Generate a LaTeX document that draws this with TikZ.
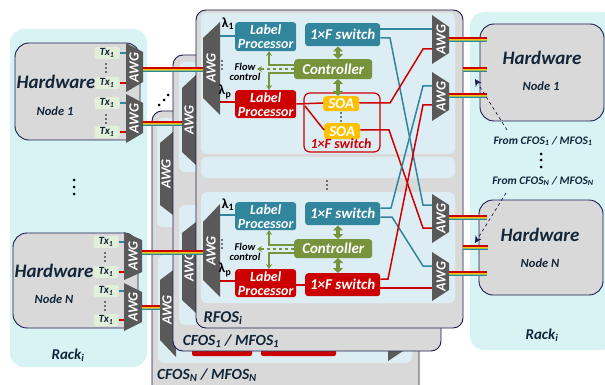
\documentclass[tikz,border=0pt]{standalone}
\usepackage{fontspec}
\setmainfont{Carlito}
\usetikzlibrary{arrows.meta}
\definecolor{rackc}{HTML}{D7F3F4}
\definecolor{panelc}{HTML}{DCEDF4}
\definecolor{grayc}{HTML}{D9D9D9}
\definecolor{navy}{HTML}{1C1C50}
\definecolor{awgc}{HTML}{595959}
\definecolor{bluec}{HTML}{31859C}
\definecolor{redc}{HTML}{CC0000}
\definecolor{greenc}{HTML}{77933C}
\definecolor{orangec}{HTML}{FFC000}
\definecolor{txc}{HTML}{E2EFDA}
\definecolor{inkc}{HTML}{12263A}
\definecolor{limec}{HTML}{9BBB59}
\tikzset{
  rack/.style={fill=rackc,rounded corners=14pt},
  hw/.style={fill=grayc,draw=navy,line width=0.9pt,rounded corners=14pt},
  fosbox/.style={fill=grayc,draw=navy,line width=0.9pt,rounded corners=10pt},
  panel/.style={fill=panelc,rounded corners=6pt},
  lbl/.style={text=white,font=\bfseries\itshape\fontsize{14}{14}\selectfont,align=center,inner sep=0pt,rounded corners=3pt,anchor=north west},
  boxb/.style={lbl,fill=bluec},
  boxr/.style={lbl,fill=redc},
  boxg/.style={lbl,fill=greenc,font=\bfseries\itshape\fontsize{15}{15}\selectfont},
  boxo/.style={lbl,fill=orangec,font=\bfseries\itshape\fontsize{15}{15}\selectfont},
  swf/.style={font=\bfseries\itshape\fontsize{15}{15}\selectfont},
  txbox/.style={fill=txc,rounded corners=1.5pt,minimum width=25pt,minimum height=12pt,inner sep=0pt,text=inkc,font=\bfseries\itshape\fontsize{11}{11}\selectfont},
  awgt/.style={text=white,rotate=90,inner sep=0pt,font=\bfseries\itshape\fontsize{14}{14}\selectfont},
  hwt/.style={text=inkc,inner sep=0pt,font=\bfseries\itshape\fontsize{19}{19}\selectfont},
  nodet/.style={text=inkc,inner sep=0pt,font=\bfseries\itshape\fontsize{12.5}{12.5}\selectfont},
  small/.style={text=inkc,inner sep=0pt,font=\bfseries\itshape\fontsize{11.5}{11.5}\selectfont},
  capt/.style={text=inkc,inner sep=0pt,font=\bfseries\itshape\fontsize{15.5}{15.5}\selectfont},
  flowt/.style={text=black,inner sep=0pt,align=center,font=\bfseries\itshape\fontsize{10.5}{9.5}\selectfont},
  lam/.style={text=black,inner sep=0pt,font=\bfseries\fontsize{14}{14}\selectfont},
  bl/.style={draw=bluec,line width=1.5pt},
  rl/.style={draw=redc,line width=1.5pt},
  gthin/.style={draw=greenc,line width=1.5pt,-{Stealth[length=5pt,width=6pt]}},
  gfat/.style={draw=greenc,line width=3.4pt,{Triangle[length=5pt,width=10pt]}-{Triangle[length=5pt,width=10pt]}},
}
\newcommand{\awgshape}[8]{% name x1 x2 ltop lbot rtop rbot textx
  \fill[awgc] (#2,#4) -- (#3,#6) -- (#3,#7) -- (#2,#5) -- cycle;
  \node[awgt] (#1) at (#8,{(#4+#5)/2}) {AWG};
}
\newcommand{\rainbow}[2]{%
  \foreach \c/\d in {bluec/3.6,limec/2.4,orangec/1.2,redc/0}
    \draw[\c,line width=1.5pt] ([yshift=-\d pt]#1) -- ([yshift=-\d pt]#2);
}
\newcommand{\vdotsb}[2]{\foreach \k in {-4,0,4}{\fill[black] (#1,#2+\k) circle (0.9pt);}}
\begin{document}
\begin{tikzpicture}[x=1pt,y=-1pt]
\useasboundingbox (0,0) rectangle (605,385);
% racks
\fill[rack] (10,29) rectangle (147,367);
\fill[rack] (470,12) rectangle (615,350);
% stacked boxes
\path[fosbox] (152,111) rectangle (419,400);
\fill[panel] (157,118) rectangle (178,227);
\fill[panel] (158,255) rectangle (412,363);
\fill[redc,rounded corners=2pt] (192,340) rectangle (252,356);
\fill[redc,rounded corners=2pt] (261,340) rectangle (336,356);
\awgshape{awgD}{160}{173}{143}{205}{132}{215}{166}
\awgshape{awgE}{160}{176}{280}{340}{268}{357}{167}
\fill[awgc] (388,351) -- (403,351) -- (388,361) -- cycle;
\path[fosbox] (173,55) rectangle (441,351);
\fill[panel] (179,62) rectangle (200,172);
\fill[panel] (179,205) rectangle (200,325);
\awgshape{awgB}{182}{196}{88}{152}{75}{165}{189}
\awgshape{awgC}{182}{196}{233}{300}{222}{313}{189}
% main box
\path[fosbox] (196,10) rectangle (463,328);
\fill[panel] (201,13) rectangle (455,154);
\fill[panel] (201,157) rectangle (455,178);
\fill[panel] (201,192) rectangle (455,303);
% left hardware
\path[hw] (15,43) rectangle (140,140);
\path[hw] (13,233) rectangle (138,328);
\node[hwt] (hwA) at (56,82) {Hardware};
\node[nodet] (nA) at (55,111) {Node 1};
\node[hwt] (hwB) at (54,271) {Hardware};
\node[nodet] (nB) at (54,299) {Node N};
% Tx
\foreach \n/\x/\y/\c in {a/107/53/bluec,b/107/83/redc,c/107/103/bluec,d/107/132/redc,e/106/242/bluec,f/106/272/redc,g/106/291/bluec,h/106/320/redc}{
  \node[txbox] (tx\n) at (\x,\y) {Tx\textsubscript{1}};
  \draw[\c,line width=1.4pt] (tx\n.east) -- ++(7,0);
}
\vdotsb{106}{68}\vdotsb{106}{119}\vdotsb{105}{257}\vdotsb{105}{306}
\awgshape{awgL1}{126}{143}{43}{92}{52}{82}{134}
\awgshape{awgL2}{126}{143}{94}{143}{103}{133}{134}
\awgshape{awgL3}{124}{142}{232}{280}{240}{272}{133}
\awgshape{awgL4}{124}{142}{283}{331}{292}{322}{133}
% main AWGs
\awgshape{awgM1}{203}{220}{38}{98}{22}{115}{211}
\awgshape{awgM2}{203}{220}{222}{280}{204}{297}{211}
% left rainbows
\coordinate (ra1) at (143,68); \coordinate (ra2) at (203,68);
\coordinate (rb1) at (143,122); \coordinate (rb2) at (182,122);
\coordinate (rc1) at (142,251); \coordinate (rc2) at (203,251);
\coordinate (rd1) at (142,306); \coordinate (rd2) at (160,306);
\rainbow{ra1}{ra2}\rainbow{rb1}{rb2}\rainbow{rc1}{rc2}\rainbow{rd1}{rd2}
% boxes top
\node[boxb,minimum width=61pt,minimum height=29pt] (lp1) at (235,22) {Label\\Processor};
\node[boxb,swf,minimum width=75pt,minimum height=23pt] (sw1) at (305,23) {1×F switch};
\node[boxg,minimum width=78pt,minimum height=20pt] (ct1) at (294,59) {Controller};
\node[boxr,minimum width=61pt,minimum height=28pt] (lp2) at (235,90) {Label\\Processor};
\draw[redc,line width=1.2pt,rounded corners=6pt] (304,93) rectangle (380,152);
\node[boxo,minimum width=36pt,minimum height=15pt] (soa1) at (323,96) {SOA};
\node[boxo,minimum width=36pt,minimum height=16pt] (soa2) at (324,123) {SOA};
\node[text=redc,inner sep=0pt,font=\bfseries\itshape\fontsize{14}{14}\selectfont] (swr) at (341,144) {1×F switch};
\vdotsb{341}{117}
% boxes bottom
\node[boxb,minimum width=61pt,minimum height=28pt] (lp3) at (235,202) {Label\\Processor};
\node[boxb,swf,minimum width=75pt,minimum height=23pt] (sw3) at (305,202) {1×F switch};
\node[boxg,minimum width=78pt,minimum height=19pt] (ct2) at (294,239) {Controller};
\node[boxr,minimum width=61pt,minimum height=28pt] (lp4) at (235,269) {Label\\Processor};
\node[boxr,swf,minimum width=75pt,minimum height=23pt] (sw4) at (305,273) {1×F switch};
% right AWGs
\awgshape{awgR1}{432}{449}{15}{64}{27}{53}{441}
\awgshape{awgR2}{432}{449}{72}{121}{83}{110}{441}
\awgshape{awgR3}{432}{449}{194}{243}{205}{232}{441}
\awgshape{awgR4}{432}{449}{252}{301}{263}{290}{441}
% short links
\draw[bl] (220,36) -- (lp1.west |- 0,36);
\draw[rl] (220,102) -- (lp2.west |- 0,102);
\draw[bl] (220,215) -- (lp3.west |- 0,215);
\draw[rl] (220,281) -- (lp4.west |- 0,281);
\draw[rl] (lp2.east |- 0,104) -- (soa1.west |- 0,103);
\draw[rl] (305,106) -- (soa2.west |- 0,130);
\draw[rl] (lp4.east |- 0,285) -- (sw4.west |- 0,285);
% crossings
\draw[bl] (sw1.east |- 0,29) -- (432,29);
\draw[bl] (sw1.east |- 0,38) -- (390,38) -- (423,205) -- (432,205);
\draw[rl] (soa1.east |- 0,103) -- (390,103) -- (423,49) -- (432,49);
\draw[rl] (soa2.east |- 0,130) -- (389,130) -- (423,228) -- (432,228);
\draw[bl] (sw3.east |- 0,208) -- (391,208) -- (423,86) -- (432,86);
\draw[bl] (sw3.east |- 0,217) -- (392,217) -- (423,266) -- (432,266);
\draw[rl] (sw4.east |- 0,279) -- (388,279) -- (423,105) -- (432,105);
\draw[rl] (sw4.east |- 0,288) -- (432,288);
% control arrows
\draw[gfat] (sw1.south -| 338,0) -- (338,59);
\draw[gfat] (338,79) -- (soa1.north -| 338,0);
\draw[gthin] (ct1.west |- 0,65) -- (269,65) -- (269,51);
\draw[gthin] (ct1.west |- 0,73) -- (269,73) -- (269,90);
\draw[gthin,dashed] (ct1.west |- 0,69) -- (257,69);
\draw[gfat] (sw3.south -| 338,0) -- (338,239);
\draw[gfat] (338,258) -- (sw4.north -| 338,0);
\draw[gthin] (ct2.west |- 0,245) -- (269,245) -- (269,230);
\draw[gthin] (ct2.west |- 0,253) -- (269,253) -- (269,269);
\draw[gthin,dashed] (ct2.west |- 0,249) -- (257,249);
% labels main
\node[flowt] (fl1) at (245,72) {Flow\\control};
\node[flowt] (fl2) at (245,252) {Flow\\control};
\node[lam] (l1) at (228,24) {λ\textsubscript{1}};
\node[lam] (l2) at (225,92) {λ\textsubscript{p}};
\node[lam] (l3) at (228,205) {λ\textsubscript{1}};
\node[lam] (l4) at (225,270) {λ\textsubscript{p}};
\vdotsb{222}{65}\vdotsb{222}{244}\vdotsb{327}{185}
\node[capt,font=\bfseries\itshape\fontsize{16.5}{16.5}\selectfont] (rfos) at (223,318) {RFOS\textsubscript{i}};
\node[capt] (cf1) at (231,341) {CFOS\textsubscript{1} / MFOS\textsubscript{1}};
\node[capt] (cfn) at (207,375) {CFOS\textsubscript{N} / MFOS\textsubscript{N}};
% right hardware
\path[hw] (480,24) rectangle (604,121);
\path[hw] (479,200) rectangle (603,295);
\node[hwt] (hwC) at (542,58) {Hardware};
\node[nodet] (nC) at (541,86) {Node 1};
\node[hwt] (hwD) at (540,235) {Hardware};
\node[nodet] (nD) at (540,263) {Node N};
% right rainbows
\coordinate (sa1) at (449,38); \coordinate (sa2) at (487,38);
\coordinate (sb1) at (463,68); \coordinate (sb2) at (487,68);
\coordinate (sc1) at (449,94); \coordinate (sc2) at (487,94);
\coordinate (sd1) at (449,216); \coordinate (sd2) at (487,216);
\coordinate (se1) at (463,246); \coordinate (se2) at (488,246);
\coordinate (sf1) at (449,272); \coordinate (sf2) at (487,272);
\rainbow{sa1}{sa2}\rainbow{sb1}{sb2}\rainbow{sc1}{sc2}\rainbow{sd1}{sd2}\rainbow{se1}{se2}\rainbow{sf1}{sf2}
% from labels
\node[small] (fr1) at (543,141) {From CFOS\textsubscript{1} / MFOS\textsubscript{1}};
\node[small] (frn) at (543,181) {From CFOS\textsubscript{N} / MFOS\textsubscript{N}};
\coordinate (ar1) at (475,79); \coordinate (ar2) at (475,243);
\coordinate (st1) at (507,130); \coordinate (st2) at (506,193);
\draw[navy,line width=0.7pt,dashed,-{Stealth[length=7pt,width=7pt]}] (st1) -- (ar1);
\draw[navy,line width=0.7pt,dashed,-{Stealth[length=7pt,width=7pt]}] (st2) -- (ar2);
% dots
\foreach \x/\y in {74/180,74/187,74/194,541/154,541/160,541/167,159/105,164/100,168/95}{\fill[black] (\x,\y) circle (1.5pt);}
\node[capt,font=\bfseries\itshape\fontsize{15}{15}\selectfont] (rackL) at (68,355) {Rack\textsubscript{i}};
\node[capt,font=\bfseries\itshape\fontsize{15}{15}\selectfont] (rackR) at (542,335) {Rack\textsubscript{i}};
\end{tikzpicture}
\end{document}
